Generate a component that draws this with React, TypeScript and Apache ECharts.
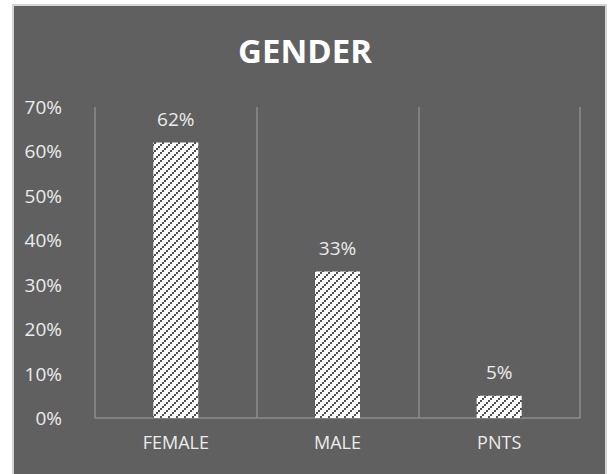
import React, { useEffect, useRef } from "react";
import * as echarts from "echarts";

const categories = ["FEMALE", "MALE", "PNTS"];
const values = [0.62, 0.33, 0.05];
const titleText = "GENDER";
const yTicks = { min: 0, max: 0.7, interval: 0.1 };

const BG = "#606060";
const TEXT = "#ececec";
const GRID = "#8c8c8c";
const FONT = "'Open Sans', 'Noto Sans', sans-serif";

function makePattern(): HTMLCanvasElement {
  const c = document.createElement("canvas");
  const size = 8;
  c.width = size;
  c.height = size;
  const ctx = c.getContext("2d")!;
  ctx.fillStyle = "#ffffff";
  ctx.fillRect(0, 0, size, size);
  ctx.fillStyle = "#505050";
  for (let by = 0; by < 4; by++) {
    for (let bx = 0; bx < 4; bx++) {
      if ((bx + by) % 4 === 0) ctx.fillRect(bx * 2, by * 2, 2, 2);
    }
  }
  // thin connector pixels to make the "/" dashes read as diagonals
  for (let y = 0; y < size; y++) {
    for (let x = 0; x < size; x++) {
      if ((x + y) % 8 === 2 && y % 4 === 1) ctx.fillRect(x, y, 1, 1);
    }
  }
  return c;
}

export default function App() {
  const ref = useRef<HTMLDivElement>(null);
  useEffect(() => {
    if (!ref.current) return;
    const chart = echarts.init(ref.current, null, { renderer: "svg" });
    const pat = makePattern();
    chart.setOption({
      animation: false,
      backgroundColor: "#ffffff",
      graphic: [
        {
          type: "rect",
          z: -10,
          silent: true,
          shape: { x: 13, y: 5, width: 593, height: 472 },
          style: { fill: BG, stroke: "#d4d4d4", lineWidth: 2 },
        },
      ],
      title: {
        text: titleText,
        left: "center",
        top: 29,
        textStyle: {
          color: "#ffffff",
          fontFamily: FONT,
          fontWeight: "bold",
          fontSize: 33,
        },
      },
      grid: { left: 95, right: 30, top: 107, bottom: 56, containLabel: false },
      xAxis: {
        type: "category",
        data: categories,
        axisLine: { show: true, lineStyle: { color: GRID, width: 1.5 } },
        axisTick: { show: false },
        splitLine: { show: true, lineStyle: { color: GRID, width: 1.5 } },
        axisLabel: {
          color: TEXT,
          fontFamily: FONT,
          fontSize: 18,
          margin: 15,
        },
      },
      yAxis: {
        type: "value",
        min: yTicks.min,
        max: yTicks.max,
        interval: yTicks.interval,
        axisLine: { show: false },
        axisTick: { show: false },
        splitLine: { show: false },
        axisLabel: {
          color: TEXT,
          fontFamily: FONT,
          fontSize: 19,
          margin: 33,
          formatter: (v: number) => `${Math.round(v * 100)}%`,
        },
      },
      series: [
        {
          type: "bar",
          data: values,
          barWidth: 45,
          itemStyle: {
            color: { image: pat, repeat: "repeat", imageWidth: 8, imageHeight: 8 } as any,
          },
          label: {
            show: true,
            position: "top",
            distance: 14,
            color: TEXT,
            fontFamily: FONT,
            fontSize: 19,
            formatter: (p: any) => `${Math.round(p.value * 100)}%`,
          },
        },
      ],
    });
    return () => chart.dispose();
  }, []);
  return (
    <div
      ref={ref}
      style={{ position: "fixed", left: 0, top: 0, width: 610, height: 474 }}
    />
  );
}
